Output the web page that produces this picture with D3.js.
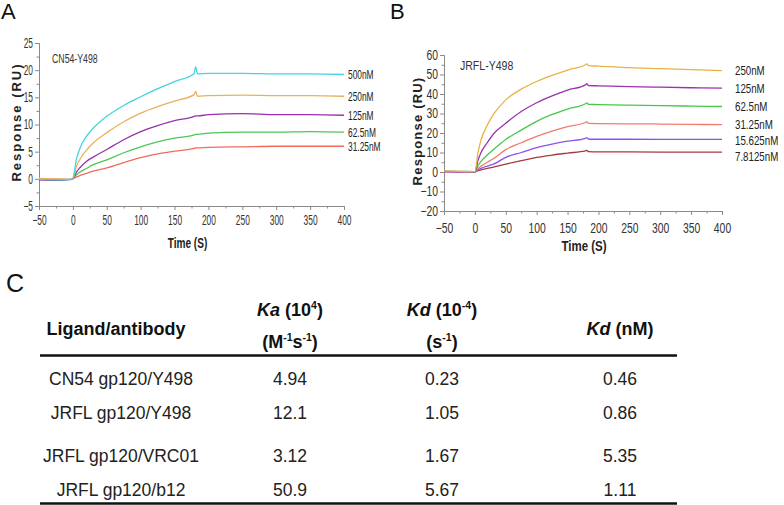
<!DOCTYPE html>
<html>
<head>
<meta charset="utf-8">
<script src="https://cdn.jsdelivr.net/npm/d3@7"></script>
<style>
  body { margin: 0; background: #fff; }
  svg { display: block; }
  text { font-family: "Liberation Sans", Arial, sans-serif; }
</style>
</head>
<body>
<svg id="fig" width="784" height="505"></svg>
<script>
// Sampling times of the sensorgrams (s)
var TIMES = [-50, -25, -1, 0, 5, 10, 20, 30, 50, 75, 100, 125, 150, 179, 181, 184, 200, 250, 300, 350, 400];

// Panel A: CN54-Y498
var LABELS_A = ["500nM", "250nM", "125nM", "62.5nM", "31.25nM"];
var A_500 = [-0.1, -0.2, -0.1, 0, 3.5, 5.5, 7.8, 9.3, 11.5, 13.5, 15.1, 16.6, 17.9, 19.4, 20.6, 19.3, 19.4, 19.4, 19.3, 19.3, 19.2];
var A_250 = [0.1, 0, -0.1, 0, 2.2, 3.5, 5.3, 6.6, 8.5, 10.5, 12.1, 13.3, 14.3, 15.5, 16.1, 15.2, 15.3, 15.4, 15.3, 15.3, 15.2];
var A_125 = [-0.2, -0.3, -0.1, 0, 1.2, 2.0, 3.2, 4.0, 5.4, 7.2, 8.7, 9.8, 10.7, 11.5, 11.6, 11.6, 11.8, 12.0, 11.8, 11.8, 11.7];
var A_62 = [-0.1, -0.1, -0.1, 0, 0.7, 1.2, 1.9, 2.6, 3.5, 4.8, 5.9, 6.8, 7.5, 8.1, 8.2, 8.2, 8.4, 8.6, 8.6, 8.7, 8.6];
var A_31 = [0, -0.1, -0.1, 0, 0.3, 0.6, 1.0, 1.4, 2.0, 3.0, 3.9, 4.6, 5.1, 5.6, 5.7, 5.7, 5.8, 5.9, 6.0, 6.0, 6.0];
var COLORS_A = ["#45d3df", "#e8b25a", "#9a30ae", "#4fc655", "#f26a5c"];

// Panel B: JRFL-Y498
var LABELS_B = ["250nM", "125nM", "62.5nM", "31.25nM", "15.625nM", "7.8125nM"];
var B_250 = [0.5, 0.3, 0.2, 0, 10, 16.5, 24, 29.5, 37, 42.5, 46.4, 49.5, 52.3, 55, 55.5, 54.5, 54.3, 53.5, 53, 52.5, 52];
var B_125 = [0.3, 0.2, 0.1, 0, 6, 10, 15, 19.5, 25, 31, 35.5, 39, 42, 44.7, 45.3, 44.3, 44.2, 43.8, 43.5, 43.2, 43];
var B_62 = [0.4, 0.3, 0.2, 0, 3.2, 5.5, 8.7, 11.5, 16.7, 21.5, 26, 29.5, 32.3, 35, 35.4, 34.7, 34.6, 34.3, 34, 33.8, 33.6];
var B_31 = [0.2, 0.2, 0.1, 0, 1.8, 3, 5, 6.8, 11.5, 15, 18.3, 21, 23.3, 25.4, 25.8, 24.9, 24.8, 24.7, 24.6, 24.4, 24.3];
var B_15 = [0.2, 0.1, 0.1, 0, 1.1, 1.9, 3, 4, 7.5, 10, 12.5, 14.3, 15.8, 17.3, 17.6, 16.8, 16.8, 16.8, 16.7, 16.7, 16.7];
var B_7 = [0.1, 0.1, 0, 0, 0.7, 1.1, 1.8, 2.5, 4, 5.8, 7.5, 8.7, 9.7, 10.8, 11.1, 10.4, 10.3, 10.3, 10.2, 10.2, 10.2];
var COLORS_B = ["#e8b244", "#9b30b0", "#46c84c", "#f27b6c", "#8a52f0", "#a83a3e"];

// Axis ticks
var X_TICKS = [-50, 0, 50, 100, 150, 200, 250, 300, 350, 400];
var Y_TICKS_A = [-5, 0, 5, 10, 15, 20, 25];
var Y_TICKS_B = [-20, -10, 0, 10, 20, 30, 40, 50, 60];

// Panel C table
var COL_LIGAND = ["CN54 gp120/Y498", "JRFL gp120/Y498", "JRFL gp120/VRC01", "JRFL gp120/b12"];
var COL_KA = ["4.94", "12.1", "3.12", "50.9"];
var COL_KD = ["0.23", "1.05", "1.67", "5.67"];
var COL_KDNM = ["0.46", "0.86", "5.35", "1.11"];

var svg = d3.select("#fig");

// No narrow font around, so squeeze texts horizontally instead
function condense(sel, k) {
  sel.each(function () {
    var w = this.getComputedTextLength();
    d3.select(this).attr("textLength", w * k).attr("lengthAdjust", "spacingAndGlyphs");
  });
}

function styleAxis(sel) {
  sel.select(".domain").attr("stroke", "#8a8a8a");
  sel.selectAll(".tick line").attr("stroke", "#8a8a8a");
  sel.selectAll(".tick text").attr("fill", "#333");
}

/**
 * Draws one sensorgram panel
 */
function drawPanel(cfg) {
  var g = svg.append("g");

  var x = d3.scaleLinear().domain([-50, 400]).range([cfg.left, cfg.right]);
  var y = d3.scaleLinear().domain(cfg.yDomain).range([cfg.bottom, cfg.top]);

  // minor ticks first, without labels
  var xMinor = d3.range(-50, 401, 25).filter(function (d) { return X_TICKS.indexOf(d) < 0; });
  var yMinor = d3.range(cfg.yDomain[0], cfg.yDomain[1] + 0.01, cfg.yMinorStep)
      .filter(function (d) { return cfg.yTicks.indexOf(d) < 0; });

  g.append("g").attr("transform", "translate(0," + cfg.bottom + ")")
    .call(d3.axisBottom(x).tickValues(xMinor).tickSize(2.5).tickFormat(""))
    .call(styleAxis);
  g.append("g").attr("transform", "translate(" + cfg.left + ",0)")
    .call(d3.axisLeft(y).tickValues(yMinor).tickSize(2.5).tickFormat(""))
    .call(styleAxis);

  var xAxis = g.append("g").attr("transform", "translate(0," + cfg.bottom + ")")
    .call(d3.axisBottom(x).tickValues(X_TICKS).tickSize(4).tickPadding(cfg.xPad).tickSizeOuter(0))
    .call(styleAxis);
  var yAxis = g.append("g").attr("transform", "translate(" + cfg.left + ",0)")
    .call(d3.axisLeft(y).tickValues(cfg.yTicks).tickSize(4).tickPadding(2).tickSizeOuter(0))
    .call(styleAxis);

  xAxis.selectAll("text").style("font-family", "Liberation Sans, Arial, sans-serif").style("font-size", cfg.tickFont).call(condense, cfg.tickSqueeze);
  yAxis.selectAll("text").style("font-family", "Liberation Sans, Arial, sans-serif").style("font-size", cfg.tickFont).call(condense, cfg.tickSqueeze);

  var line = d3.line()
    .x(function (d) { return x(d[0]); })
    .y(function (d) { return y(d[1]); })
    .curve(d3.curveMonotoneX);

  var series = cfg.series.map(function (vals, i) {
    return { label: cfg.labels[i], color: cfg.colors[i], pts: TIMES.map(function (t, j) { return [t, vals[j]]; }) };
  });

  // draw the lowest series first so higher ones sit on top
  g.selectAll("path.curve").data(series.slice().reverse()).enter()
    .append("path")
    .attr("class", "curve")
    .attr("fill", "none")
    .attr("stroke", function (d) { return d.color; })
    .attr("stroke-width", 1.3)
    .attr("d", function (d) { return line(d.pts); });

  // concentration labels at the line ends, pushed apart if they crowd
  var lastY = -Infinity;
  series.forEach(function (s) {
    var ly = y(s.pts[s.pts.length - 1][1]);
    if (ly < lastY + cfg.labelGap) ly = lastY + cfg.labelGap;
    lastY = ly;
    g.append("text")
      .attr("x", cfg.right + cfg.labelDx)
      .attr("y", ly)
      .attr("dy", "0.35em")
      .style("font-size", cfg.labelFont)
      .attr("fill", "#222")
      .text(s.label)
      .call(condense, cfg.labelSqueeze);
  });

  g.append("text")
    .attr("x", cfg.titleX).attr("y", cfg.titleY)
    .style("font-size", cfg.titleFont)
    .attr("fill", "#333")
    .text(cfg.title)
    .call(condense, cfg.titleSqueeze);

  g.append("text")
    .attr("x", (cfg.left + cfg.right) / 2 + cfg.xLabelDx).attr("y", cfg.xLabelY)
    .attr("text-anchor", "middle")
    .style("font-size", "14px").style("font-weight", "bold")
    .attr("fill", "#222")
    .text("Time (S)")
    .call(condense, cfg.xLabelSqueeze);

  g.append("text")
    .attr("transform", "translate(" + cfg.yLabelX + "," + cfg.yLabelY + ") rotate(-90)")
    .attr("text-anchor", "middle")
    .style("font-size", "13px").style("font-weight", "bold")
    .style("letter-spacing", cfg.yLabelSpacing)
    .attr("fill", "#222")
    .text("Response (RU)");

  g.append("text")
    .attr("x", cfg.letterX).attr("y", 19)
    .style("font-size", "22px")
    .attr("fill", "#111")
    .text(cfg.letter);
}

drawPanel({
  letter: "A", letterX: 1,
  left: 39, right: 344, top: 43, bottom: 206,
  yDomain: [-5, 25], yTicks: Y_TICKS_A, yMinorStep: 2.5,
  series: [A_500, A_250, A_125, A_62, A_31], labels: LABELS_A, colors: COLORS_A,
  tickFont: "14px", tickSqueeze: 0.6, xPad: 5,
  labelFont: "13.5px", labelDx: 4, labelGap: 14, labelSqueeze: 0.62,
  title: "CN54-Y498", titleX: 52, titleY: 63, titleFont: "12.5px", titleSqueeze: 0.7,
  xLabelDx: -4, xLabelY: 248, xLabelSqueeze: 0.72,
  yLabelX: 20.5, yLabelY: 122, yLabelSpacing: "2px"
});

drawPanel({
  letter: "B", letterX: 390,
  left: 444, right: 722, top: 55, bottom: 211,
  yDomain: [-20, 60], yTicks: Y_TICKS_B, yMinorStep: 5,
  series: [B_250, B_125, B_62, B_31, B_15, B_7], labels: LABELS_B, colors: COLORS_B,
  tickFont: "14px", tickSqueeze: 0.74, xPad: 8,
  labelFont: "13.5px", labelDx: 13, labelGap: 16, labelSqueeze: 0.72,
  title: "JRFL-Y498", titleX: 460, titleY: 70, titleFont: "13.5px", titleSqueeze: 0.78,
  xLabelDx: 1, xLabelY: 251, xLabelSqueeze: 0.82,
  yLabelX: 422, yLabelY: 131, yLabelSpacing: "1.2px"
});

// ##### Panel C: kinetics table #####

var tbl = svg.append("g");

tbl.append("text").attr("x", 6).attr("y", 292)
  .style("font-size", "25px").attr("fill", "#111").text("C");

var COL_X = [121, 290, 442, 620];
var HEAD_Y1 = 316, HEAD_Y2 = 348, HEAD_MID = 335;

function headText(x, yPos, parts) {
  var t = tbl.append("text").attr("x", x).attr("y", yPos)
    .attr("text-anchor", "middle")
    .style("font-size", "18px").style("font-weight", "bold")
    .attr("fill", "#111");
  parts.forEach(function (p) {
    var ts = t.append("tspan").text(p.s);
    if (p.it) ts.style("font-style", "italic");
    if (p.sup) ts.style("font-size", "10.5px").attr("dy", -7);
    if (p.down) ts.attr("dy", 7);
  });
}

headText(116, HEAD_MID, [{ s: "Ligand/antibody" }]);
headText(COL_X[1], HEAD_Y1, [{ s: "Ka", it: true }, { s: " (10" }, { s: "4", sup: true }, { s: ")", down: true }]);
headText(COL_X[1], HEAD_Y2, [{ s: "(M" }, { s: "-1", sup: true }, { s: "s", down: true }, { s: "-1", sup: true }, { s: ")", down: true }]);
headText(COL_X[2], HEAD_Y1, [{ s: "Kd", it: true }, { s: " (10" }, { s: "-4", sup: true }, { s: ")", down: true }]);
headText(COL_X[2], HEAD_Y2, [{ s: "(s" }, { s: "-1", sup: true }, { s: ")", down: true }]);
headText(COL_X[3], HEAD_MID, [{ s: "Kd", it: true }, { s: " (nM)" }]);

tbl.append("line").attr("x1", 40).attr("x2", 677).attr("y1", 355.5).attr("y2", 355.5)
  .attr("stroke", "#111").attr("stroke-width", 2.5);
tbl.append("line").attr("x1", 40).attr("x2", 677).attr("y1", 503.5).attr("y2", 503.5)
  .attr("stroke", "#111").attr("stroke-width", 2.5);

// rows come in two groups, with a little more room between them
function rowY(i) {
  return 385 + i * 33.5 + (i >= 2 ? 10 : 0);
}

[COL_LIGAND, COL_KA, COL_KD, COL_KDNM].forEach(function (col, c) {
  tbl.selectAll("text.c" + c).data(col).enter()
    .append("text")
    .attr("class", "c" + c)
    .attr("x", COL_X[c])
    .attr("y", function (d, i) { return rowY(i); })
    .attr("text-anchor", "middle")
    .style("font-size", "17.5px")
    .attr("fill", "#222")
    .text(function (d) { return d; });
});
</script>
</body>
</html>
